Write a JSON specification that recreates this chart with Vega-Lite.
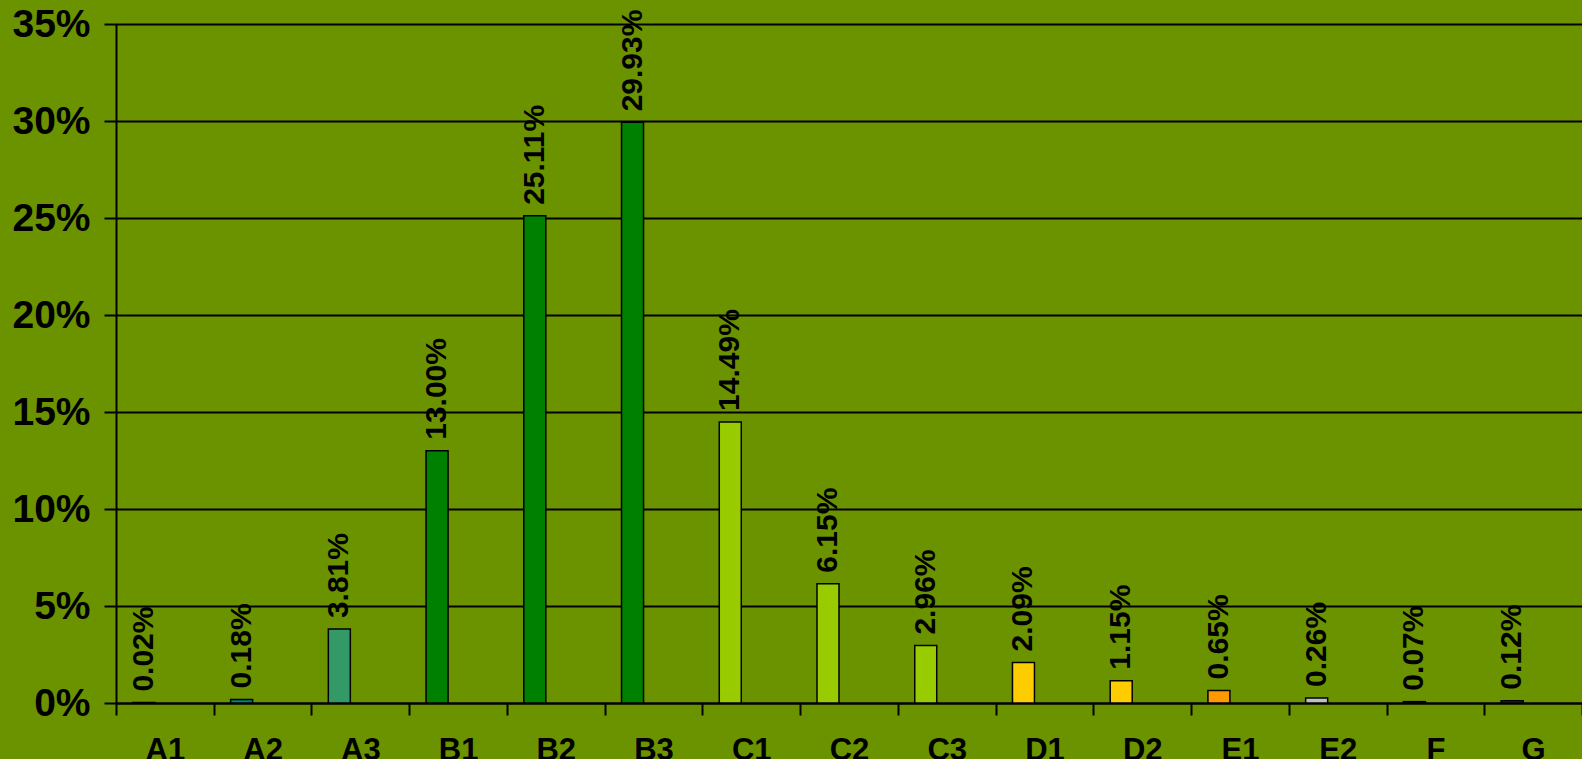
{
  "$schema": "https://vega.github.io/schema/vega-lite/v6.json",
  "autosize": "none",
  "width": 1466,
  "height": 679,
  "padding": {"left": 116, "top": 24, "right": 0, "bottom": 56},
  "background": "#6B9300",
  "config": {
    "view": {"stroke": null},
    "font": "Liberation Sans"
  },
  "data": {
    "values": [
      {"cat": "A1", "value": 0.0002},
      {"cat": "A2", "value": 0.0018},
      {"cat": "A3", "value": 0.0381},
      {"cat": "B1", "value": 0.13},
      {"cat": "B2", "value": 0.2511},
      {"cat": "B3", "value": 0.2993},
      {"cat": "C1", "value": 0.1449},
      {"cat": "C2", "value": 0.0615},
      {"cat": "C3", "value": 0.0296},
      {"cat": "D1", "value": 0.0209},
      {"cat": "D2", "value": 0.0115},
      {"cat": "E1", "value": 0.0065},
      {"cat": "E2", "value": 0.0026},
      {"cat": "F", "value": 0.0007},
      {"cat": "G", "value": 0.0012}
    ]
  },
  "encoding": {
    "x": {
      "field": "cat",
      "type": "nominal",
      "sort": null,
      "scale": {"paddingInner": 0, "paddingOuter": 0},
      "axis": {
        "title": null,
        "labelAngle": 0,
        "labelFont": "Liberation Sans",
        "labelFontWeight": "bold",
        "labelFontSize": 31,
        "labelColor": "#000000",
        "labelPadding": 20,
        "tickBand": "extent",
        "tickSize": 12,
        "tickColor": "#000000",
        "tickWidth": 2,
        "domainColor": "#000000",
        "domainWidth": 2,
        "grid": false
      }
    },
    "y": {
      "field": "value",
      "type": "quantitative",
      "scale": {"domain": [0, 0.35], "nice": false},
      "axis": {
        "title": null,
        "format": ".0%",
        "values": [0, 0.05, 0.1, 0.15, 0.2, 0.25, 0.3, 0.35],
        "labelFont": "Liberation Sans",
        "labelFontWeight": "bold",
        "labelFontSize": 39,
        "labelColor": "#000000",
        "labelPadding": 14,
        "tickSize": 12,
        "tickColor": "#000000",
        "tickWidth": 2,
        "domainColor": "#000000",
        "domainWidth": 2,
        "grid": true,
        "gridColor": "#000000",
        "gridWidth": 2,
        "gridOpacity": 1
      }
    }
  },
  "layer": [
    {
      "mark": {"type": "bar", "width": 22, "xOffset": -21, "stroke": "#000000", "strokeWidth": 1.5},
      "encoding": {
        "color": {
          "field": "cat",
          "type": "nominal",
          "legend": null,
          "scale": {
            "domain": ["A1","A2","A3","B1","B2","B3","C1","C2","C3","D1","D2","E1","E2","F","G"],
            "range": ["#006666","#008080","#339966","#008000","#008000","#008000","#99CC00","#99CC00","#99CC00","#FFCC00","#FFCC00","#FF9900","#C0C0C0","#333333","#333333"]
          }
        }
      }
    },
    {
      "mark": {
        "type": "text",
        "angle": 270,
        "align": "left",
        "baseline": "middle",
        "xOffset": -21,
        "dx": 11,
        "font": "Liberation Sans",
        "fontWeight": "bold",
        "fontSize": 30,
        "color": "#000000"
      },
      "encoding": {
        "text": {"field": "value", "type": "quantitative", "format": ".2%"}
      }
    }
  ]
}
